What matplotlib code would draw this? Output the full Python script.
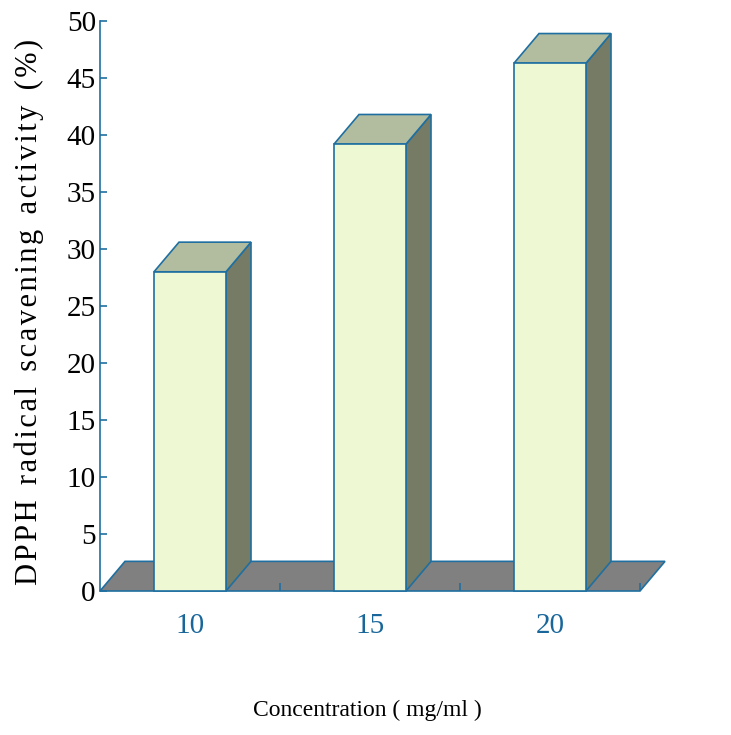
import matplotlib
matplotlib.use("Agg")
import matplotlib.pyplot as plt
from matplotlib.patches import Polygon

# data
concentrations = ["10", "15", "20"]
scavenging = [28.0, 39.2, 46.3]
y_ticks = [0, 5, 10, 15, 20, 25, 30, 35, 40, 45, 50]

# styling
EDGE = "#1f6fa0"
FRONT = "#eef9d4"
TOP = "#b2bda0"
SIDE = "#767b65"
FLOOR = "#808080"
SERIF = ["Liberation Serif", "DejaVu Serif"]

W, H = 731, 735
fig = plt.figure(figsize=(W / 100, H / 100), dpi=100)
fig.patch.set_facecolor("white")

ax = fig.add_axes([100 / W, 1 - 591 / H, 540 / W, 570 / H])
ax.patch.set_alpha(0)
ax.set_xlim(-0.5, len(concentrations) - 0.5)
ax.set_ylim(0, 50)

# 3D depth offsets in data units
ddx = 25 / 180
ddy = 2.6
bw = 0.4

# floor
n = len(concentrations)
floor = Polygon([(-0.5, 0), (n - 0.5, 0), (n - 0.5 + ddx, ddy), (-0.5 + ddx, ddy)],
                closed=True, facecolor=FLOOR, edgecolor=EDGE, lw=1.2,
                clip_on=False, zorder=1)
ax.add_patch(floor)

# bars: side, top and front faces
for i, v in enumerate(scavenging):
    x0, x1 = i - bw / 2, i + bw / 2
    side = Polygon([(x1, 0), (x1 + ddx, ddy), (x1 + ddx, v + ddy), (x1, v)],
                   closed=True, facecolor=SIDE, edgecolor=EDGE, lw=1.2,
                   clip_on=False, zorder=2)
    top = Polygon([(x0, v), (x1, v), (x1 + ddx, v + ddy), (x0 + ddx, v + ddy)],
                  closed=True, facecolor=TOP, edgecolor=EDGE, lw=1.2,
                  clip_on=False, zorder=2)
    front = Polygon([(x0, 0), (x1, 0), (x1, v), (x0, v)],
                    closed=True, facecolor=FRONT, edgecolor=EDGE, lw=1.2,
                    clip_on=False, zorder=3)
    for p in (side, top, front):
        ax.add_patch(p)

for s in ("top", "right", "bottom"):
    ax.spines[s].set_visible(False)
ax.spines["left"].set_color(EDGE)
ax.spines["left"].set_linewidth(1.2)
ax.spines["left"].set_zorder(4)

ax.set_yticks(y_ticks)
ax.set_yticklabels([str(t) for t in y_ticks], family=SERIF, fontsize=21)
ax.tick_params(axis="y", direction="in", length=5, width=1.2, color=EDGE,
               labelcolor="black", pad=3)

ax.set_xticks(range(n))
ax.set_xticklabels(concentrations, family=SERIF, fontsize=21)
ax.set_xticks([i + 0.5 for i in range(n)], minor=True)
ax.tick_params(axis="x", which="major", length=0, pad=16, labelcolor="#19679a")
ax.tick_params(axis="x", which="minor", direction="in", length=6, width=1.2,
               color=EDGE)

fig.text(29 / W, 1 - 312 / H,
         "D\u200aP\u200aP\u200aH  r\u200aa\u200ad\u200ai\u200ac\u200aa\u200al  "
         "s\u200ac\u200aa\u200av\u200ae\u200an\u200ai\u200an\u200ag  "
         "a\u200ac\u200at\u200ai\u200av\u200ai\u200at\u200ay  (\u200a%\u200a)",
         rotation=90, ha="center", va="center", family=SERIF, fontsize=22)

fig.text(367 / W, 1 - 710 / H, "Concentration ( mg/ml )",
         ha="center", va="center", family=SERIF, fontsize=17)

fig.savefig("out.png", dpi=100, facecolor="white")
